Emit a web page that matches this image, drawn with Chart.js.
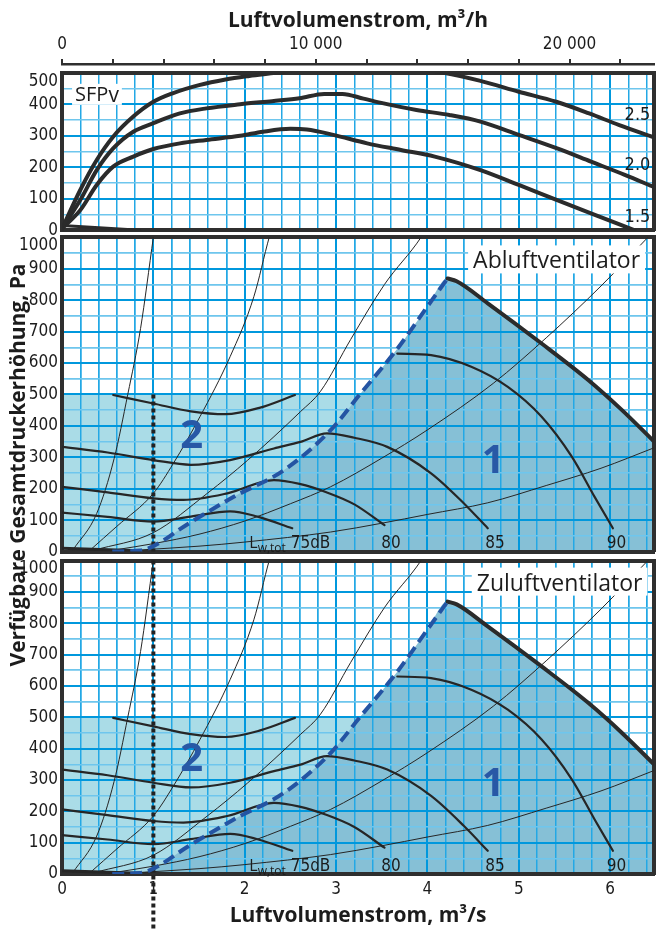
<!DOCTYPE html>
<html lang="de">
<head>
<meta charset="utf-8">
<title>Luftvolumenstrom</title>
<script src="https://cdn.jsdelivr.net/npm/chart.js@4.4.1/dist/chart.umd.min.js"></script>
<style>
  html, body { margin:0; padding:0; background:#fff; }
  #wrap { position:relative; width:656px; height:930px; overflow:hidden; background:#fff; }
  #wrap canvas { position:absolute; left:0; }
</style>
</head>
<body>
<div id="wrap">
  <canvas id="cTitle" width="656" height="930" style="top:0"></canvas>
  <canvas id="cTop" width="656" height="240" style="top:0"></canvas>
  <canvas id="cMid" width="656" height="336" style="top:226px"></canvas>
  <canvas id="cBot" width="656" height="382" style="top:548px"></canvas>
</div>
<script>
// ======================= DATA =======================
const X_MAX = 6.48;   // m³/s at right edge

// tick marks / labels
const topTickMarks = [0, 2000, 4000, 6000, 8000, 10000, 12000, 14000, 16000, 18000, 20000, 22000];
const topTickValues = [0, 10000, 20000];
const topTickLabels = ['0', '10 000', '20 000'];
const bottomTickValues = [0, 1, 2, 3, 4, 5, 6];
const bottomTickLabels = ['0', '1', '2', '3', '4', '5', '6'];
const ySfpTickValues = [0, 100, 200, 300, 400, 500];
const yPaTickValues = [0, 100, 200, 300, 400, 500, 600, 700, 800, 900, 1000];

// --- top panel: SFPv curves ---
const sfp25X = [0, 0.2, 0.38, 0.56, 0.78, 1.0, 1.21, 1.5, 1.79, 2.05, 2.34, 2.8, 3.3, 3.8, 4.18, 4.57, 5.0, 5.41, 5.77, 6.1, 6.48];
const sfp25Y = [5, 128, 223, 297, 361, 408, 435, 461, 479, 490, 500, 518, 525, 515, 500, 475, 440, 408, 371, 334, 295];
const sfp20X = [0, 0.2, 0.38, 0.56, 0.78, 1.0, 1.29, 1.58, 1.95, 2.3, 2.6, 2.87, 3.07, 3.3, 3.52, 3.88, 4.24, 4.58, 5.0, 5.42, 5.79, 6.16, 6.48];
const sfp20Y = [5, 96, 191, 260, 313, 340, 371, 387, 400, 410, 419, 433, 433, 418, 403, 382, 366, 345, 303, 260, 218, 176, 137];
const sfp15X = [0, 0.2, 0.38, 0.56, 0.78, 1.0, 1.29, 1.58, 1.95, 2.2, 2.5, 2.68, 2.97, 3.34, 3.71, 4.08, 4.58, 5.0, 5.42, 5.79, 6.27];
const sfp15Y = [5, 64, 144, 202, 234, 258, 276, 287, 300, 313, 322, 320, 303, 276, 255, 234, 191, 144, 96, 54, 0];
const sfpLowX = [0, 0.45, 0.85];
const sfpLowY = [15, 7, 0];

// --- middle / bottom panels (Abluft / Zuluft), Pa ---
// system curves (thin)
const sys1X = [0.12, 0.38, 0.57, 0.72, 0.86, 1.0, 1.02];
const sys1Y = [5, 121, 295, 500, 710, 1000, 1040];
const sys2X = [0.31, 0.6, 1.0, 1.22, 1.51, 1.84, 2.1, 2.27, 2.3];
const sys2Y = [5, 80, 185, 281, 429, 620, 811, 1002, 1030];
const sys3X = [0.35, 1.0, 1.59, 2.03, 2.61, 2.83, 3.16, 3.53, 3.93, 3.97];
const sys3Y = [4, 60, 185, 290, 445, 510, 675, 850, 1000, 1020];
const sys4X = [0.6, 1.0, 1.5, 2.0, 2.5, 2.94, 3.5, 4.0, 4.72, 5.3, 5.9, 6.42, 6.48];
const sys4Y = [6, 25, 55, 97, 152, 206, 297, 387, 535, 680, 845, 1002, 1020];
const sys5X = [0.8, 1.5, 2.0, 2.94, 3.5, 4.0, 4.66, 5.3, 5.9, 6.48];
const sys5Y = [4, 17, 30, 62, 90, 118, 155, 210, 265, 330];

// sound power curves
const lwTopX = [0.56, 1.0, 1.41, 1.79, 2.17, 2.55];
const lwTopY = [498, 471, 446, 437, 458, 498];
const lw85X = [0, 0.5, 1.0, 1.41, 1.84, 2.32, 2.61, 2.9, 3.2, 3.56, 4.04, 4.4, 4.66];
const lw85Y = [333, 315, 291, 276, 291, 328, 349, 376, 362, 333, 249, 153, 74];
const lw80X = [0, 0.5, 1.0, 1.33, 1.81, 2.32, 2.6, 2.9, 3.2, 3.53];
const lw80Y = [206, 188, 169, 164, 185, 227, 215, 188, 150, 84];
const lw75X = [0, 0.5, 1.0, 1.41, 1.84, 2.14, 2.52];
const lw75Y = [124, 110, 95, 111, 128, 111, 74];
const lw90X = [3.67, 4.04, 4.48, 4.88, 5.25, 5.58, 5.83, 6.03];
const lw90Y = [630, 625, 588, 524, 429, 302, 174, 74];

// range boundaries
const dashX = [0.55, 0.85, 1.0, 1.37, 1.88, 2.43, 2.94, 3.26, 3.67, 4.0, 4.22];
const dashY = [0, 3, 17, 86, 174, 259, 386, 500, 645, 780, 869];
const maxX = [4.22, 4.32, 4.66, 5.25, 5.76, 6.13, 6.48];
const maxY = [869, 860, 790, 662, 546, 450, 350];
const area2X = [0, 3.26];
const area2Y = [500, 500];
const baseX = [0, 0.85];
const baseY = [10, 2];
const dotMidX = [1, 1];
const dotMidY = [500, 0];
const dotBotX = [1, 1];
const dotBotY = [1000, -180];

// ======================= STYLE =======================
const FONT_NARROW = "'Liberation Sans Narrow','Arial Narrow','DejaVu Sans Condensed',sans-serif";
const FONT_SANS = "'Open Sans','Noto Sans',sans-serif";
const C_BORDER = '#2f2f2f';
const C_CURVE = '#262626';
const C_TEXT = '#1c1c1c';
const GRID_MAJ = 'rgb(0,152,221)';
const GRID_MIN_X = 'rgb(35,168,229)';
const GRID_MIN_Y = 'rgb(110,198,237)';
const NONE = 'rgba(0,0,0,0)';
const FILL_2 = 'rgb(170,220,231)';
const FILL_1 = 'rgb(134,192,214)';
const C_DASH = 'rgb(36,84,163)';
const C_BIG = 'rgb(40,88,166)';

const near = (a, b) => Math.abs(a - b) < 1e-6;
const findIdx = (arr, v) => arr.findIndex(a => near(a, v));
const isMul = (v, m) => near(v / m, Math.round(v / m));
const pts = (xs, ys) => xs.map((x, i) => ({x: x, y: ys[i]}));

function curve(xs, ys, o) {
  return Object.assign({
    data: pts(xs, ys), xAxisID: 'x', yAxisID: 'y',
    borderColor: C_CURVE, borderWidth: 2, pointRadius: 0, pointHoverRadius: 0,
    fill: false, cubicInterpolationMode: 'monotone', borderCapStyle: 'round', borderJoinStyle: 'round'
  }, o);
}

const tickFont = { family: FONT_NARROW, size: 17, lineHeight: 1 };
function noPad(s) { s.paddingTop = 0; s.paddingBottom = 0; s.paddingLeft = 0; s.paddingRight = 0; }

function scaleY(max, values) {
  return {
    axis: 'y', type: 'linear', position: 'left', min: 0, max: max,
    ticks: { stepSize: 50, autoSkip: false, includeBounds: false, padding: 4, font: tickFont, color: C_TEXT,
      callback: v => { const i = findIdx(values, v); if (i < 0) return ''; const t = String(values[i]); return near(v, max) ? ['', t] : t; } },
    grid: { drawTicks: false,
      color: c => { const v = c.tick.value; if (v <= 1e-6 || v >= max - 1e-6) return NONE; return isMul(v, 100) ? GRID_MAJ : GRID_MIN_Y; },
      lineWidth: c => isMul(c.tick.value, 100) ? 2 : 1.5 },
    border: { display: true, color: C_BORDER, width: 4 },
    afterFit: s => { s.width = 62; noPad(s); }
  };
}
function scaleYRight(max) {
  return { axis: 'y', type: 'linear', position: 'right', min: 0, max: max,
    ticks: { display: false }, grid: { display: false, drawTicks: false },
    border: { display: true, color: C_BORDER, width: 4 },
    afterFit: s => { s.width = 2; noPad(s); } };
}
function scaleXBox(h) {
  return { axis: 'x', type: 'linear', position: 'top', min: 0, max: X_MAX, weight: 0,
    ticks: { display: false }, grid: { display: false, drawTicks: false },
    border: { display: true, color: C_BORDER, width: 4 },
    afterFit: s => { s.height = h; noPad(s); } };
}
function scaleX(h, withLabels) {
  const s = {
    axis: 'x', type: 'linear', position: 'bottom', min: 0, max: X_MAX,
    ticks: { display: withLabels, stepSize: 0.2, includeBounds: false, autoSkip: false, maxRotation: 0, minRotation: 0,
      padding: 7.5, font: tickFont, color: C_TEXT,
      callback: v => { const i = findIdx(bottomTickValues, v); return i < 0 ? '' : bottomTickLabels[i]; } },
    grid: { drawTicks: false,
      color: c => { const v = c.tick.value; if (v <= 1e-6 || v >= X_MAX - 1e-6) return NONE; return near(v, Math.round(v)) ? GRID_MAJ : GRID_MIN_X; },
      lineWidth: c => near(c.tick.value, Math.round(c.tick.value)) ? 2 : 1.5 },
    border: { display: true, color: C_BORDER, width: 4 },
    afterFit: sc => { sc.height = h; noPad(sc); }
  };
  if (withLabels) {
    s.title = { display: true, text: 'Luftvolumenstrom, m³/s', color: C_TEXT,
      font: { family: FONT_SANS, size: 21, weight: 'bold', lineHeight: 1.2 }, padding: { top: 0, bottom: 1 } };
  }
  return s;
}

function baseOptions(scales) {
  return {
    responsive: false, animation: false, devicePixelRatio: 1, events: [],
    layout: { padding: 0 },
    plugins: { legend: { display: false }, tooltip: { enabled: false }, title: { display: false } },
    scales: scales
  };
}

// redraw grid + frame on top of the filled ranges
const regridPlugin = {
  id: 'regrid',
  afterDatasetDraw(chart, args) {
    const ds = chart.data.datasets[args.index];
    if (!ds || !ds.regridAfter) return;
    const area = chart.chartArea;
    chart.scales.x.drawGrid(area);
    chart.scales.y.drawGrid(area);
    Object.keys(chart.scales).forEach(id => chart.scales[id].drawBorder());
  }
};

// text annotations (real text) positioned in data units
function notesPlugin(items) {
  return {
    id: 'notes',
    afterDatasetsDraw(chart) {
      const ctx = chart.ctx, sx = chart.scales.x, sy = chart.scales.y;
      items.forEach(it => {
        const parts = it.parts || [{ text: it.text, font: it.font, dy: 0 }];
        ctx.save();
        let total = 0, asc = 0, desc = 0; const widths = [];
        parts.forEach(p => {
          ctx.font = p.font || it.font;
          const m = ctx.measureText(p.text);
          widths.push(m.width); total += m.width;
          asc = Math.max(asc, m.actualBoundingBoxAscent - (p.dy || 0));
          desc = Math.max(desc, m.actualBoundingBoxDescent + (p.dy || 0));
        });
        const px = sx.getPixelForValue(it.x), py = sy.getPixelForValue(it.y);
        const x0 = it.align === 'right' ? px - total : (it.align === 'center' ? px - total / 2 : px);
        if (it.bg) {
          const pad = it.pad || 4;
          ctx.fillStyle = it.bg;
          ctx.fillRect(x0 - pad, py - asc - pad, total + 2 * pad, asc + desc + 2 * pad);
        }
        ctx.fillStyle = it.color || C_TEXT;
        ctx.textBaseline = 'alphabetic'; ctx.textAlign = 'left';
        let cx = x0;
        parts.forEach((p, i) => { ctx.font = p.font || it.font; ctx.fillText(p.text, cx, py + (p.dy || 0)); cx += widths[i]; });
        ctx.restore();
      });
    }
  };
}

// ======================= Y TITLE =======================
new Chart(document.getElementById('cTitle'), {
  type: 'line',
  data: { datasets: [] },
  options: baseOptions({
    x: { type: 'linear', display: false, min: 0, max: 1 },
    y: { type: 'linear', position: 'left', min: 0, max: 1,
      ticks: { display: false }, grid: { display: false }, border: { display: false },
      title: { display: true, text: 'Verfügbare Gesamtdruckerhöhung, Pa', color: C_TEXT,
        font: { family: FONT_SANS, size: 21, weight: 'bold', lineHeight: 1.2 }, padding: { top: 6, bottom: 0 } },
      afterFit: s => { s.width = 40; noPad(s); } }
  })
});

// ======================= TOP PANEL (SFPv) =======================
const topScales = {
  x: scaleX(9.7, false),
  y: scaleY(500, ySfpTickValues),
  yR: scaleYRight(500),
  xBox: scaleXBox(8.8),
  xH: { axis: 'x', type: 'linear', position: 'top', min: 0, max: X_MAX * 3600, weight: 1,
    afterBuildTicks: s => { s.ticks = topTickMarks.map(v => ({ value: v })); },
    ticks: { autoSkip: false, maxRotation: 0, minRotation: 0, padding: 5.5,
      font: tickFont, color: C_TEXT,
      callback: v => { const i = findIdx(topTickValues, v); return i < 0 ? '' : topTickLabels[i]; } },
    grid: { drawOnChartArea: false, drawTicks: true, tickLength: 5, color: C_BORDER, lineWidth: 2 },
    border: { display: true, color: C_BORDER, width: 2.5 },
    title: { display: true, text: 'Luftvolumenstrom, m³/h', color: C_TEXT,
      font: { family: FONT_SANS, size: 21, weight: 'bold', lineHeight: 1.2 }, padding: { top: 8.5, bottom: 0 } },
    afterFit: s => { s.height = 64; noPad(s); } }
};
new Chart(document.getElementById('cTop'), {
  type: 'line',
  data: { datasets: [
    curve(sfp25X, sfp25Y, { borderWidth: 4, borderColor: '#2b2b2b' }),
    curve(sfp20X, sfp20Y, { borderWidth: 4, borderColor: '#2b2b2b' }),
    curve(sfp15X, sfp15Y, { borderWidth: 4, borderColor: '#2b2b2b' }),
    curve(sfpLowX, sfpLowY, { borderWidth: 3, borderColor: '#2b2b2b', cubicInterpolationMode: 'default', tension: 0 })
  ] },
  options: baseOptions(topScales),
  plugins: [notesPlugin([
    { x: 0.143, y: 411, parts: [ { text: 'SFP', font: '20px ' + FONT_SANS }, { text: 'v', font: '21px ' + FONT_SANS, dy: 1 } ], bg: '#fff', pad: 3 },
    { x: 6.44, y: 350, text: '2.5', font: '18px ' + FONT_NARROW, align: 'right' },
    { x: 6.44, y: 191, text: '2.0', font: '18px ' + FONT_NARROW, align: 'right' },
    { x: 6.44, y: 27, text: '1.5', font: '18px ' + FONT_NARROW, align: 'right' }
  ])]
});

// ======================= FAN PANELS =======================
function fanDatasets(dotX, dotY) {
  return [
    curve(area2X, area2Y, { order: 20, borderWidth: 0, borderColor: NONE, backgroundColor: FILL_2, fill: 'origin', cubicInterpolationMode: 'default', tension: 0 }),
    curve(dashX.concat(maxX.slice(1)), dashY.concat(maxY.slice(1)), { order: 19, borderWidth: 0, borderColor: NONE, backgroundColor: FILL_1, fill: 'origin', regridAfter: true }),
    curve(sys1X, sys1Y, { order: 6, borderWidth: 1 }),
    curve(sys2X, sys2Y, { order: 6, borderWidth: 1 }),
    curve(sys3X, sys3Y, { order: 6, borderWidth: 1 }),
    curve(sys4X, sys4Y, { order: 6, borderWidth: 1 }),
    curve(sys5X, sys5Y, { order: 6, borderWidth: 1 }),
    curve(baseX, baseY, { order: 5, borderWidth: 3, cubicInterpolationMode: 'default', tension: 0 }),
    curve(lwTopX, lwTopY, { order: 4, borderWidth: 2.2 }),
    curve(lw85X, lw85Y, { order: 4, borderWidth: 2.2 }),
    curve(lw80X, lw80Y, { order: 4, borderWidth: 2.2 }),
    curve(lw75X, lw75Y, { order: 4, borderWidth: 2.2 }),
    curve(lw90X, lw90Y, { order: 4, borderWidth: 2.2 }),
    curve(maxX, maxY, { order: 3, borderWidth: 4, borderColor: '#2b2b2b' }),
    curve(dotX, dotY, { order: 2, borderWidth: 4, borderColor: '#222', borderDash: [4, 3], borderCapStyle: 'butt', cubicInterpolationMode: 'default', tension: 0, clip: false }),
    curve(dashX, dashY, { order: 1, borderWidth: 4, borderColor: C_DASH, borderDash: [12, 6], borderCapStyle: 'butt' })
  ];
}
function fanNotes(title, tx, ty) {
  return [
    { x: tx, y: ty, text: title, font: '23px ' + FONT_SANS, bg: '#fff', pad: 5 },
    { x: 1.42, y: 328, text: '2', font: 'bold 40px ' + FONT_SANS, color: C_BIG, align: 'center' },
    { x: 4.72, y: 249, text: '1', font: 'bold 40px ' + FONT_SANS, color: C_BIG, align: 'center' },
    { x: 2.05, y: 11, parts: [ { text: 'L', font: '16px ' + FONT_SANS }, { text: 'w,tot', font: '12px ' + FONT_SANS, dy: 4 }, { text: ' 75dB', font: '17px ' + FONT_NARROW } ] },
    { x: 3.6, y: 11, text: '80', font: '17px ' + FONT_NARROW, align: 'center' },
    { x: 4.74, y: 11, text: '85', font: '17px ' + FONT_NARROW, align: 'center' },
    { x: 6.07, y: 11, text: '90', font: '17px ' + FONT_NARROW, align: 'center' }
  ];
}

new Chart(document.getElementById('cMid'), {
  type: 'line',
  data: { datasets: fanDatasets(dotMidX, dotMidY) },
  options: baseOptions({
    x: scaleX(10.5, false),
    y: scaleY(1000, yPaTickValues),
    yR: scaleYRight(1000),
    xBox: scaleXBox(11.3)
  }),
  plugins: [regridPlugin, notesPlugin(fanNotes('Abluftventilator', 4.5, 901))]
});

new Chart(document.getElementById('cBot'), {
  type: 'line',
  data: { datasets: fanDatasets(dotBotX, dotBotY) },
  options: baseOptions({
    x: scaleX(56, true),
    y: scaleY(1000, yPaTickValues),
    yR: scaleYRight(1000),
    xBox: scaleXBox(12.5)
  }),
  plugins: [regridPlugin, notesPlugin(fanNotes('Zuluftventilator', 4.54, 904))]
});
</script>
</body>
</html>
